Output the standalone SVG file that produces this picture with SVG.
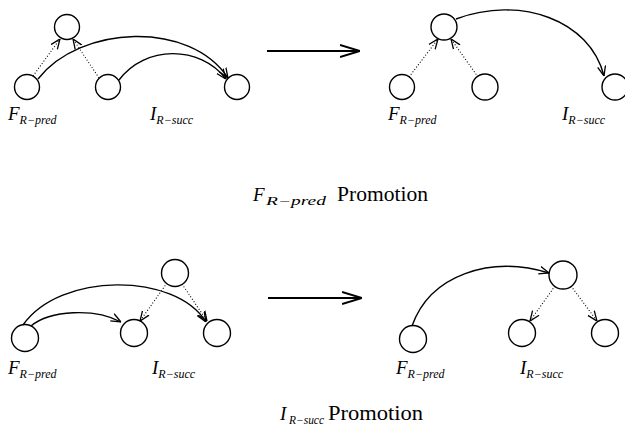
<svg xmlns="http://www.w3.org/2000/svg" width="625" height="439" viewBox="0 0 625 439">
<style>
.node{fill:none;stroke:#000;stroke-width:1.4}
.e{fill:none;stroke:#000;stroke-width:1.4;marker-end:url(#ah)}
.d{fill:none;stroke:#000;stroke-width:1.1;stroke-dasharray:1 2;marker-end:url(#ah)}
.big{fill:none;stroke:#000;stroke-width:2;marker-end:url(#bh)}
.m{font-family:"Liberation Serif",serif;font-style:italic;font-size:19px}
.s{font-size:12px}
.c{font-family:"Liberation Serif",serif;font-size:20px}
</style>
<defs>
<marker id="ah" viewBox="0 0 10 10" refX="10" refY="5" markerWidth="10" markerHeight="10" markerUnits="userSpaceOnUse" orient="auto">
<path d="M0,1 L10,5 L0,9" fill="none" stroke="#000" stroke-width="1.3"/>
</marker>
<marker id="bh" viewBox="0 0 20 14" refX="20" refY="7" markerWidth="20" markerHeight="14" markerUnits="userSpaceOnUse" orient="auto">
<path d="M0,1 L20,7 L0,13" fill="none" stroke="#000" stroke-width="2"/>
</marker>
</defs>
<g id="connectors">
<path class="d" d="M33,76 L60,39"/>
<path class="d" d="M99,78 L73,39"/>
<path class="e" d="M38,79 C80,25 190,20 228,78"/>
<path class="e" d="M119,80 C145,45 200,45 226,79"/>
<path class="big" d="M267,51 L360,51"/>
<path class="d" d="M409,77 L438,39"/>
<path class="d" d="M478,77 L451,39"/>
<path class="e" d="M456,19 C520,-5 590,20 604,76"/>
<path class="e" d="M23,325 C60,272 175,272 206,322"/>
<path class="e" d="M31,326 C50,310 95,308 121,322"/>
<path class="d" d="M167,283 L140,321"/>
<path class="d" d="M182,284 L207,321"/>
<path class="big" d="M268,298 L362,298"/>
<path class="e" d="M412,326 C430,275 490,255 549,273"/>
<path class="d" d="M555,286 L530,321"/>
<path class="d" d="M571,286 L597,321"/>
</g>
<g id="n1"><circle class="node" cx="27" cy="87" r="12.5"/></g>
<g id="n2"><circle class="node" cx="67" cy="27" r="12.5"/></g>
<g id="n3"><circle class="node" cx="108" cy="87" r="12.5"/></g>
<g id="n4"><circle class="node" cx="237" cy="87" r="12.5"/></g>
<g id="n5"><circle class="node" cx="402" cy="87" r="12.5"/></g>
<g id="n6"><circle class="node" cx="444" cy="27" r="13"/></g>
<g id="n7"><circle class="node" cx="485" cy="87" r="13"/></g>
<g id="n8"><circle class="node" cx="615" cy="87" r="13"/></g>
<g id="n9"><circle class="node" cx="25" cy="338" r="13.5"/></g>
<g id="n10"><circle class="node" cx="134" cy="333" r="13.5"/></g>
<g id="n11"><circle class="node" cx="217" cy="333" r="13.5"/></g>
<g id="n12"><circle class="node" cx="175" cy="273" r="13.5"/></g>
<g id="n13"><circle class="node" cx="413" cy="339" r="13.5"/></g>
<g id="n14"><circle class="node" cx="522" cy="333" r="13.5"/></g>
<g id="n15"><circle class="node" cx="605" cy="333" r="13.5"/></g>
<g id="n16"><circle class="node" cx="563" cy="275" r="14"/></g>
<g id="labels">
<text class="m" x="8" y="120">F<tspan class="s" dy="4">R−pred</tspan></text>
<text class="m" x="150" y="120">I<tspan class="s" dy="4">R−succ</tspan></text>
<text class="m" x="388" y="120">F<tspan class="s" dy="4">R−pred</tspan></text>
<text class="m" x="562" y="120">I<tspan class="s" dy="4">R−succ</tspan></text>
<text class="m" x="8" y="374">F<tspan class="s" dy="4">R−pred</tspan></text>
<text class="m" x="152" y="374">I<tspan class="s" dy="4">R−succ</tspan></text>
<text class="m" x="396" y="374">F<tspan class="s" dy="4">R−pred</tspan></text>
<text class="m" x="520" y="374">I<tspan class="s" dy="4">R−succ</tspan></text>
<text class="c" x="253" y="201"><tspan class="m">F</tspan><tspan class="m s" dy="4" x="266" textLength="60" lengthAdjust="spacingAndGlyphs">R−pred</tspan><tspan dy="-4" x="337" textLength="91" lengthAdjust="spacingAndGlyphs">Promotion</tspan></text>
<text class="c" x="280" y="420"><tspan class="m">I</tspan><tspan class="m s" dy="4" x="289" textLength="35" lengthAdjust="spacingAndGlyphs">R−succ</tspan><tspan dy="-4" x="328" textLength="95" lengthAdjust="spacingAndGlyphs">Promotion</tspan></text>
</g>
</svg>
